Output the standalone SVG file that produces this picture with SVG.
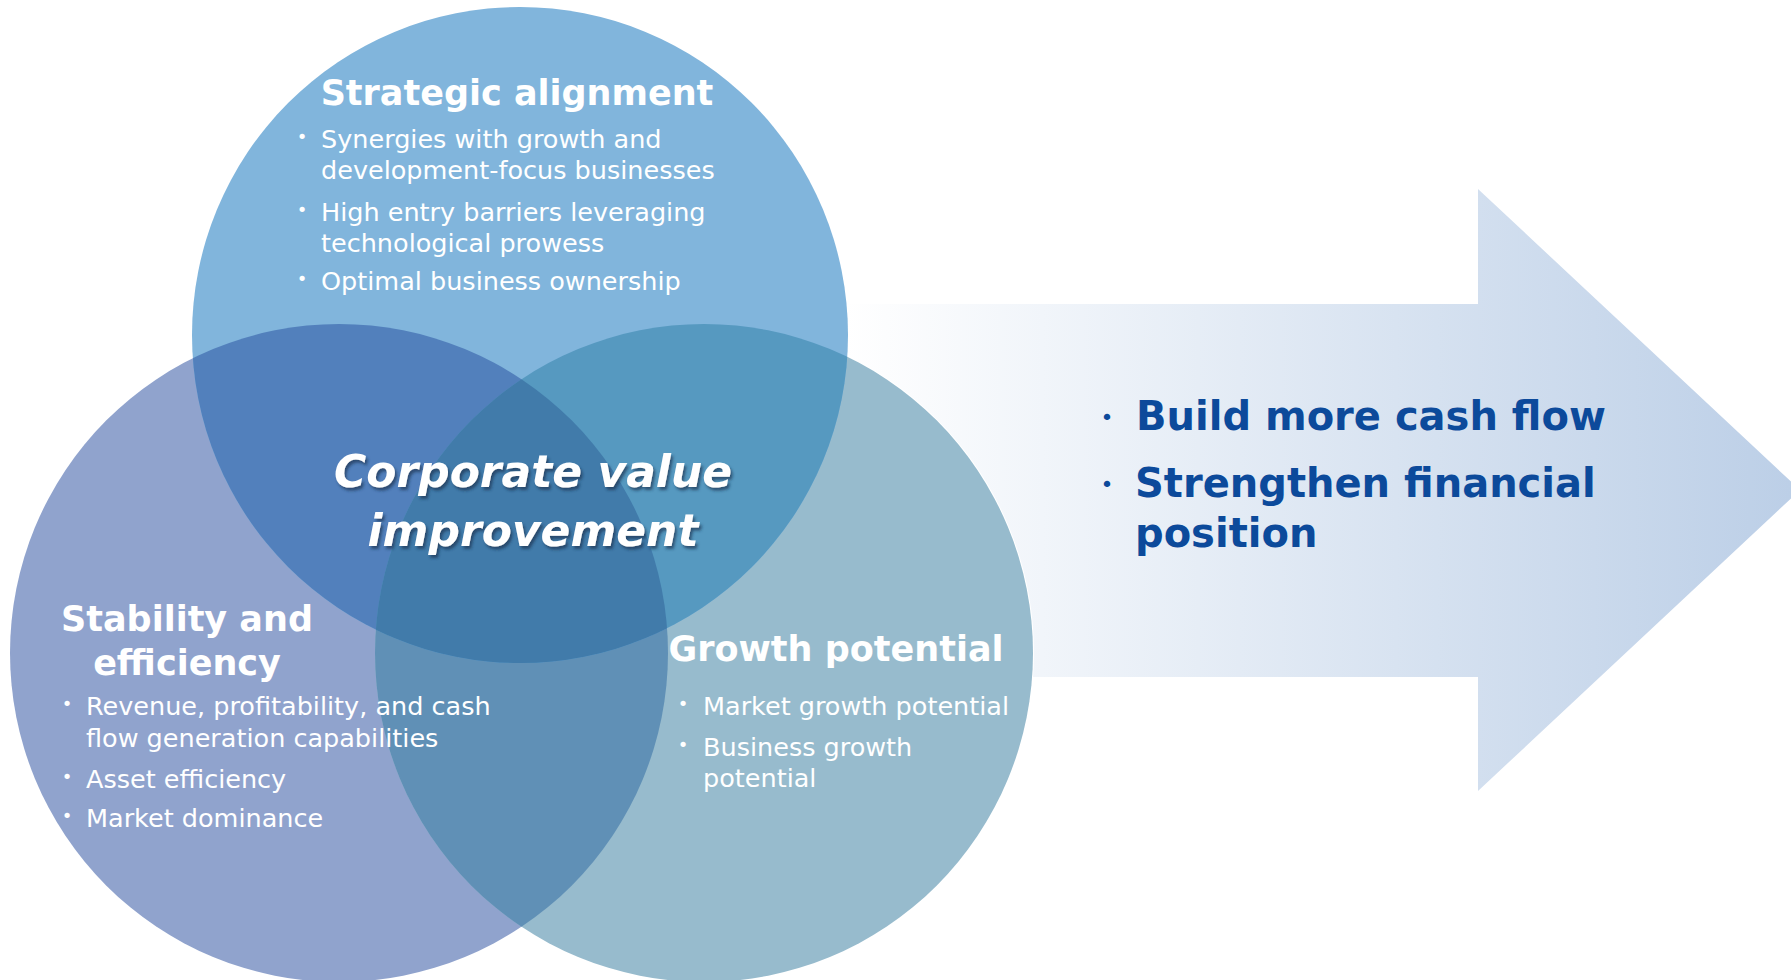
<svg xmlns="http://www.w3.org/2000/svg" width="1791" height="980" viewBox="0 0 1791 980">
  <defs>
    <linearGradient id="arrowFill" gradientUnits="userSpaceOnUse" x1="845" y1="0" x2="1791" y2="0">
      <stop offset="0" stop-color="#ffffff"/>
      <stop offset="1" stop-color="#bccfe7"/>
    </linearGradient>
    <clipPath id="clipLeft"><circle cx="339" cy="653" r="329"/></clipPath>
    <clipPath id="clipRight"><circle cx="704" cy="653" r="329"/></clipPath>
    <filter id="textShadow" x="-10%" y="-20%" width="120%" height="150%">
      <feDropShadow dx="2" dy="3" stdDeviation="1.4" flood-color="#1b3552" flood-opacity="0.7"/>
    </filter>
    <style>
      .title { font-family: "DejaVu Sans", Verdana, sans-serif; font-weight: bold; font-size: 35px; fill: #ffffff; text-anchor: middle; }
      .item { font-family: "DejaVu Sans", Verdana, sans-serif; font-size: 25.5px; fill: #ffffff; }
      .dot { font-family: "DejaVu Sans", Verdana, sans-serif; font-size: 18px; fill: #ffffff; text-anchor: middle; }
      .center { font-family: "DejaVu Sans", Verdana, sans-serif; font-weight: bold; font-style: italic; font-size: 44px; fill: #ffffff; text-anchor: middle; }
      .goal { font-family: "DejaVu Sans", Verdana, sans-serif; font-weight: bold; font-size: 40px; fill: #0c4a9b; }
      .goalDot { font-family: "DejaVu Sans", Verdana, sans-serif; font-size: 22px; fill: #0c4a9b; text-anchor: middle; }
    </style>
  </defs>

  <!-- outcome arrow behind the circles -->
  <g id="arrow">
    <polygon points="760,304 1478,304 1478,189 1800,490 1478,791 1478,677 760,677" fill="url(#arrowFill)"/>
  </g>

  <!-- thin light rim of the growth circle, kept underneath the fills -->
  <circle cx="704" cy="653" r="329" fill="none" stroke="#ffffff" stroke-width="2"/>

  <!-- three overlapping circles -->
  <g id="circle-stability">
    <circle cx="339" cy="653" r="329" fill="#90a3cd"/>
  </g>
  <g id="circle-growth">
    <circle cx="704" cy="653" r="329" fill="#97bbcd"/>
    <circle cx="704" cy="653" r="329" fill="#6090b6" clip-path="url(#clipLeft)"/>
  </g>
  <g id="circle-strategic">
    <circle cx="520" cy="335" r="328" fill="#81b5dc"/>
    <circle cx="520" cy="335" r="328" fill="#5280bc" clip-path="url(#clipLeft)"/>
    <circle cx="520" cy="335" r="328" fill="#5699c0" clip-path="url(#clipRight)"/>
    <g clip-path="url(#clipRight)">
      <circle cx="520" cy="335" r="328" fill="#417baa" clip-path="url(#clipLeft)"/>
    </g>
  </g>

  <!-- Strategic alignment -->
  <g id="label-strategic">
    <text class="title" x="517" y="105">Strategic alignment</text>
    <text class="dot" x="302" y="143">•</text>
    <text class="item" x="321" y="148">Synergies with growth and</text>
    <text class="item" x="321" y="179">development-focus businesses</text>
    <text class="dot" x="302" y="216">•</text>
    <text class="item" x="321" y="221">High entry barriers leveraging</text>
    <text class="item" x="321" y="252">technological prowess</text>
    <text class="dot" x="302" y="285">•</text>
    <text class="item" x="321" y="290">Optimal business ownership</text>
  </g>

  <!-- Stability and efficiency -->
  <g id="label-stability">
    <text class="title" x="187" y="631">Stability and</text>
    <text class="title" x="187" y="675">efficiency</text>
    <text class="dot" x="67" y="710">•</text>
    <text class="item" x="86" y="715">Revenue, profitability, and cash</text>
    <text class="item" x="86" y="747">flow generation capabilities</text>
    <text class="dot" x="67" y="783">•</text>
    <text class="item" x="86" y="788">Asset efficiency</text>
    <text class="dot" x="67" y="822">•</text>
    <text class="item" x="86" y="827">Market dominance</text>
  </g>

  <!-- Growth potential -->
  <g id="label-growth">
    <text class="title" x="836" y="661">Growth potential</text>
    <text class="dot" x="683" y="710">•</text>
    <text class="item" x="703" y="715">Market growth potential</text>
    <text class="dot" x="683" y="751">•</text>
    <text class="item" x="703" y="756">Business growth</text>
    <text class="item" x="703" y="787">potential</text>
  </g>

  <!-- centre label -->
  <g id="label-center" filter="url(#textShadow)">
    <text class="center" x="533" y="487">Corporate value</text>
    <text class="center" x="533" y="546">improvement</text>
  </g>

  <!-- outcomes inside the arrow -->
  <g id="label-outcomes">
    <text class="goalDot" x="1107" y="425">•</text>
    <text class="goal" x="1136" y="430">Build more cash flow</text>
    <text class="goalDot" x="1107" y="492">•</text>
    <text class="goal" x="1135" y="497">Strengthen financial</text>
    <text class="goal" x="1135" y="547">position</text>
  </g>
</svg>
